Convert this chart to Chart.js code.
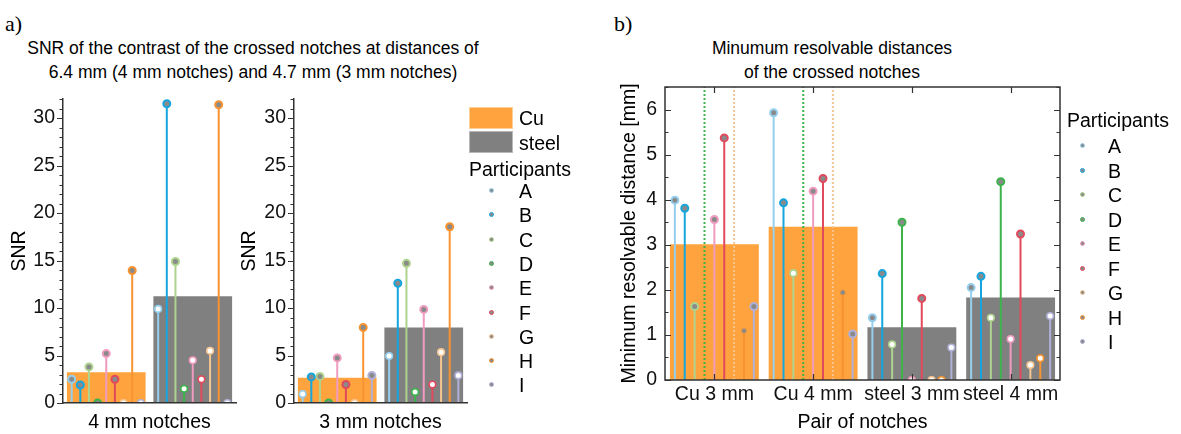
<!DOCTYPE html>
<html>
<head>
<meta charset="utf-8">
<script src="https://cdn.jsdelivr.net/npm/chart.js@4.4.1/dist/chart.umd.min.js"></script>
<style>
  body { margin: 0; background: #fff; width: 1181px; height: 434px; position: relative; overflow: hidden;
         font-family: 'Liberation Sans', Arial, sans-serif; color: #000; }
  canvas, .t { position: absolute; top: 0; }
  .t { white-space: nowrap; }
  .panel { font-family: 'Liberation Serif', 'Times New Roman', serif; font-size: 22px; line-height: 26px; }
  .title { font-size: 17.5px; line-height: 24px; text-align: center; }
  .leg { font-size: 19.5px; line-height: 22px; }
  .dot { position: absolute; width: 3px; height: 3px; border-radius: 50%; border: 1.5px solid; background: #8a8a8a; }
  .sw { position: absolute; width: 42px; }
</style>
</head>
<body>
<div class="t panel" style="left:5px;top:11px">a)</div>
<div class="t panel" style="left:614px;top:11px">b)</div>
<div class="t title" style="left:0;width:506px;top:36px">SNR of the contrast of the crossed notches at distances of<br>6.4 mm (4 mm notches) and 4.7 mm (3 mm notches)</div>
<div class="t title" style="left:632px;width:400px;top:36px">Minumum resolvable distances<br>of the crossed notches</div>
<canvas id="a4" width="240" height="434" style="left:0"></canvas>
<canvas id="a3" width="244" height="434" style="left:236px"></canvas>
<canvas id="b" width="581" height="434" style="left:600px"></canvas>

<script>
// participants and their colours
const participants = ['A', 'B', 'C', 'D', 'E', 'F', 'G', 'H', 'I'];
const colors = ['#95cfee', '#16a6de', '#add38f', '#3cb44b', '#f09bbf', '#e14a5c', '#f5c592', '#f79431', '#b0b0d8'];
const materials = ['Cu', 'steel'];
const materialColors = ['#fea33d', '#808080'];

// a) SNR, 4 mm notches
const snr4Cu = [2.5, 1.9, 3.8, 0, 5.2, 2.5, 0, 13.95, 0];
const snr4Steel = [9.9, 31.5, 14.9, 1.5, 4.5, 2.5, 5.5, 31.4, 0];
const snr4Mean = [3.25, 11.25];
// a) SNR, 3 mm notches
const snr3Cu = [0.95, 2.75, 2.8, 0, 4.75, 1.95, 0, 7.95, 2.9];
const snr3Steel = [4.95, 12.6, 14.7, 1.15, 9.85, 1.95, 5.35, 18.55, 2.9];
const snr3Mean = [2.65, 7.95];
// marker type: f = filled, o = open, s = small
const snr4Marks = ['ffffffofo', 'offoooofo'];
const snr3Marks = ['offfffoff', 'offofoofo'];

// b) minimum resolvable distance [mm], null = not resolved (dotted line)
const notchPairs = ['Cu 3 mm', 'Cu 4 mm', 'steel 3 mm', 'steel 4 mm'];
const distCu3 = [3.99, 3.81, 1.63, null, 3.56, 5.37, null, 1.09, 1.63];
const distCu4 = [5.93, 3.93, 2.37, null, 4.19, 4.47, null, 1.94, 1.02];
const distSteel3 = [1.38, 2.36, 0.79, 3.5, 0, 1.81, 0, 0, 0.72];
const distSteel4 = [2.05, 2.3, 1.38, 4.4, 0.91, 3.24, 0.33, 0.48, 1.42];
const distMean = [3.01, 3.4, 1.17, 1.83];
const distMarks = ['fffxffxsf', 'ffoxffxsf', 'ffofofooo', 'ffofofooo'];
const distMax = 6.5;

Chart.defaults.font.family = "'Liberation Sans', Arial, sans-serif";
Chart.defaults.font.size = 19.5;
Chart.defaults.color = '#111';

const spread = 0.1;

// inward / outward tick marks and frame
const axisMarks = {
  id: 'axisMarks',
  afterDraw(chart, args, o) {
    const { ctx, chartArea: a, scales } = chart;
    ctx.save();
    ctx.strokeStyle = '#333';
    ctx.lineWidth = 1.2;
    ctx.beginPath();
    const y = scales.y;
    for (let v = y.min; v <= y.max + 1e-9; v += o.step) {
      const py = Math.round(y.getPixelForValue(v)) + 0.5;
      const r = v / o.major;
      const len = Math.abs(r - Math.round(r)) < 1e-6 ? o.len : o.minorLen;
      if (o.inward) {
        ctx.moveTo(a.left, py); ctx.lineTo(a.left + len, py);
        ctx.moveTo(a.right, py); ctx.lineTo(a.right - len, py);
      } else {
        ctx.moveTo(a.left, py); ctx.lineTo(a.left - len, py);
      }
    }
    if (o.inward) {
      scales.x.ticks.forEach((t, i) => {
        const px = Math.round(scales.x.getPixelForTick(i)) + 0.5;
        ctx.moveTo(px, a.top); ctx.lineTo(px, a.top + o.len);
        ctx.moveTo(px, a.bottom); ctx.lineTo(px, a.bottom - o.len);
      });
    }
    ctx.stroke();
    if (o.frame) {
      ctx.lineWidth = 1.5;
      ctx.strokeRect(a.left, a.top, a.right - a.left, a.bottom - a.top);
    }
    ctx.restore();
  }
};

function stemSets(groups, marks) {
  const sets = [];
  participants.forEach((p, k) => {
    const pts = [], dotted = [];
    groups.forEach((vals, gi) => {
      const x = gi + (k - 4) * spread;
      if (vals[k] === null) dotted.push({ x, y: 0 }, { x, y: distMax }, { x, y: null });
      else pts.push({ x, y: 0 }, { x, y: vals[k], s: marks[gi][k] }, { x, y: null });
    });
    sets.push({
      type: 'line', label: p, data: pts, xAxisID: 'px', yAxisID: 'y', order: 0, clip: 0,
      borderColor: colors[k], borderWidth: 2,
      pointRadius: c => { const s = c.raw && c.raw.s; return s === 'f' ? 3.5 : s === 'o' ? 3.3 : s === 's' ? 2.5 : 0; },
      pointBorderWidth: c => { const s = c.raw && c.raw.s; return s === 'f' ? 2 : s === 'o' ? 1.6 : 1; },
      pointBackgroundColor: c => (c.raw && c.raw.s === 'o') ? '#fff' : '#8a8a8a',
      pointBorderColor: c => (c.raw && c.raw.s === 's') ? colors[k] + '88' : colors[k]
    });
    if (dotted.length) sets.push({
      type: 'line', data: dotted, xAxisID: 'px', yAxisID: 'y', order: 1, clip: 0,
      borderColor: colors[k], borderWidth: 2, borderDash: [2, 2], pointRadius: 0
    });
  });
  return sets;
}

function snrChart(id, means, groups, marks, xTitle, yWidth, titlePad, padRight) {
  return new Chart(document.getElementById(id), {
    type: 'bar',
    data: {
      labels: materials,
      datasets: [
        { data: means, backgroundColor: materialColors, grouped: false, barPercentage: 0.91, categoryPercentage: 1,
          order: 10, xAxisID: 'x', yAxisID: 'y' },
        ...stemSets(groups, marks)
      ]
    },
    options: {
      responsive: false, animation: false, events: [],
      layout: { padding: { top: 99, right: padRight, left: 0, bottom: 0 } },
      plugins: { legend: { display: false }, tooltip: { enabled: false },
        axisMarks: { step: 1, major: 5, len: 6, minorLen: 3.5, inward: false } },
      scales: {
        x: {
          type: 'category', offset: true,
          grid: { display: false, drawTicks: false },
          border: { color: '#333', width: 1.5, z: 1 },
          ticks: { display: false },
          title: { display: true, text: xTitle, color: '#000', padding: 0 },
          afterFit: s => { s.height = 31; }
        },
        px: { type: 'linear', axis: 'x', position: 'bottom', min: -0.5, max: 1.5, offset: false,
              grid: { offset: false }, display: false },
        y: {
          type: 'linear', min: 0, max: 32,
          grid: { display: false, drawTicks: false },
          border: { color: '#333', width: 1.5, z: 1 },
          ticks: { stepSize: 5, includeBounds: false, padding: 8, callback: v => (v % 5 === 0 ? v : '') },
          title: { display: true, text: 'SNR', color: '#000', padding: { top: titlePad, bottom: 0 } },
          afterFit: s => { s.width = yWidth; }
        }
      }
    },
    plugins: [axisMarks]
  });
}

snrChart('a4', snr4Mean, [snr4Cu, snr4Steel], snr4Marks, '4 mm notches', 63, 8.3, 4);
snrChart('a3', snr3Mean, [snr3Cu, snr3Steel], snr3Marks, '3 mm notches', 58, 2.3, 13);

new Chart(document.getElementById('b'), {
  type: 'bar',
  data: {
    labels: notchPairs,
    datasets: [
      { data: distMean, backgroundColor: [materialColors[0], materialColors[0], materialColors[1], materialColors[1]],
        grouped: false, barPercentage: 0.9, categoryPercentage: 1, order: 10, xAxisID: 'x', yAxisID: 'y' },
      ...stemSets([distCu3, distCu4, distSteel3, distSteel4], distMarks)
    ]
  },
  options: {
    responsive: false, animation: false, events: [],
    layout: { padding: { top: 87, right: 121, left: 0, bottom: 0 } },
    plugins: { legend: { display: false }, tooltip: { enabled: false },
      axisMarks: { step: 0.5, major: 1, len: 6, minorLen: 3.5, inward: true, frame: true } },
    scales: {
      x: {
        type: 'category', offset: true,
        grid: { display: false, drawTicks: false },
        border: { display: false },
        ticks: { padding: 3.3, autoSkip: false, maxRotation: 0, minRotation: 0 },
        title: { display: true, text: 'Pair of notches', color: '#000', padding: 0 },
        afterFit: s => { s.height = 54; }
      },
      px: { type: 'linear', axis: 'x', position: 'bottom', min: -0.5, max: 3.5, offset: false,
            grid: { offset: false }, display: false },
      y: {
        type: 'linear', min: 0, max: distMax,
        grid: { display: false, drawTicks: false },
        border: { display: false },
        ticks: { stepSize: 1, includeBounds: false, padding: 8 },
        title: { display: true, text: 'Minimum resolvable distance [mm]', color: '#000', padding: { top: 18.3, bottom: 0 } },
        afterFit: s => { s.width = 65; }
      }
    }
  },
  plugins: [axisMarks]
});

// legends
function addText(text, left, cy) {
  const d = document.createElement('div');
  d.className = 't leg';
  d.textContent = text;
  d.style.left = left + 'px';
  d.style.top = (cy - 11) + 'px';
  document.body.appendChild(d);
}
function addDot(color, cx, cy) {
  const d = document.createElement('div');
  d.className = 'dot';
  d.style.borderColor = color;
  d.style.left = (cx - 3) + 'px';
  d.style.top = (cy - 3) + 'px';
  document.body.appendChild(d);
}
function addSwatch(color, border, top, h) {
  const d = document.createElement('div');
  d.className = 'sw';
  d.style.left = '469px';
  d.style.top = top + 'px';
  d.style.height = (h - 2) + 'px';
  d.style.background = color;
  d.style.border = '1px solid ' + border;
  document.body.appendChild(d);
}

addSwatch(materialColors[0], '#ffcf98', 107, 22);
addSwatch(materialColors[1], '#b8b8b8', 131, 22);
addText(materials[0], 519, 118);
addText(materials[1], 519, 143);
addText('Participants', 469, 169);
participants.forEach((p, k) => {
  addDot(colors[k], 492, 191 + 24.3 * k);
  addText(p, 519, 191 + 24.3 * k);
});

addText('Participants', 1067, 120);
participants.forEach((p, k) => {
  addDot(colors[k], 1083, 146 + 24.5 * k);
  addText(p, 1108, 146 + 24.5 * k);
});
</script>
</body>
</html>
